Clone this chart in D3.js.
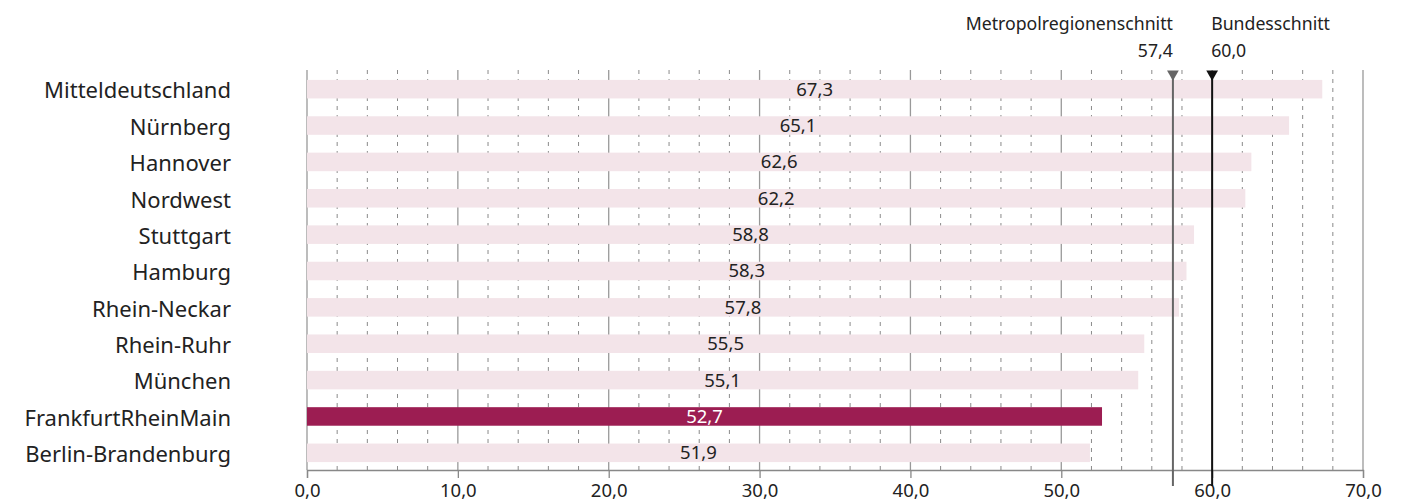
<!DOCTYPE html>
<html>
<head>
<meta charset="utf-8">
<script src="https://cdn.jsdelivr.net/npm/d3@7"></script>
<style>
  body { margin: 0; background: #fff; }
  svg { font-family: "Noto Sans", sans-serif; }
</style>
</head>
<body>
<svg id="chart" width="1417" height="501"></svg>
<script>
const regions = ["Mitteldeutschland", "Nürnberg", "Hannover", "Nordwest", "Stuttgart", "Hamburg",
  "Rhein-Neckar", "Rhein-Ruhr", "München", "FrankfurtRheinMain", "Berlin-Brandenburg"];
const values = [67.3, 65.1, 62.6, 62.2, 58.8, 58.3, 57.8, 55.5, 55.1, 52.7, 51.9];
const highlight = "FrankfurtRheinMain";
const refNames = ["Metropolregionenschnitt", "Bundesschnitt"];
const refValues = [57.4, 60.0];
const xTicks = [0, 10, 20, 30, 40, 50, 60, 70];

const fmt = v => d3.format(".1f")(v).replace(".", ",");

const svg = d3.select("#chart");
const x = d3.scaleLinear().domain([0, 70]).range([307, 1363]);
const y = d3.scaleBand().domain(regions).range([71, 471]).paddingInner(0.49).paddingOuter(0.245);
const axisY = 470;

// grid: dashed every 2, solid every 10
const grid = svg.append("g");
grid.selectAll("line.minor")
  .data(d3.range(2, 70, 2).filter(d => d % 10 !== 0))
  .join("line")
  .attr("x1", d => x(d)).attr("x2", d => x(d))
  .attr("y1", 70).attr("y2", axisY)
  .attr("stroke", "#8a8a8a").attr("stroke-width", 1)
  .attr("stroke-dasharray", "4,5");
grid.selectAll("line.major")
  .data(xTicks)
  .join("line")
  .attr("x1", d => x(d)).attr("x2", d => x(d))
  .attr("y1", 70).attr("y2", axisY)
  .attr("stroke", "#999").attr("stroke-width", 1.3);

// bars
svg.append("g").selectAll("rect")
  .data(regions)
  .join("rect")
  .attr("x", x(0))
  .attr("y", d => y(d))
  .attr("width", (d, i) => x(values[i]) - x(0))
  .attr("height", y.bandwidth())
  .attr("fill", d => d === highlight ? "#9c1d52" : "#f3e4e9");

// value labels
svg.append("g").selectAll("text")
  .data(regions)
  .join("text")
  .attr("x", (d, i) => (x(0) + x(values[i])) / 2)
  .attr("y", d => y(d) + y.bandwidth() / 2)
  .attr("dy", "0.35em")
  .attr("text-anchor", "middle")
  .attr("font-size", 18.5)
  .attr("fill", d => d === highlight ? "#fff" : "#222")
  .text((d, i) => fmt(values[i]));

// category labels
svg.append("g").selectAll("text")
  .data(regions)
  .join("text")
  .attr("x", 231)
  .attr("y", d => y(d) + y.bandwidth() / 2)
  .attr("dy", "0.42em")
  .attr("text-anchor", "end")
  .attr("font-size", 22)
  .attr("fill", "#222")
  .text(d => d);

// x axis
const xAxis = d3.axisBottom(x).tickValues(xTicks).tickSize(8).tickPadding(0).tickFormat(fmt);
const ax = svg.append("g").attr("transform", `translate(0,${axisY})`).call(xAxis);
ax.select(".domain").attr("stroke", "#888").attr("stroke-width", 1.3);
ax.selectAll(".tick line").attr("stroke", "#888").attr("stroke-width", 1.3);
ax.selectAll(".tick text").attr("font-size", 18.5).attr("fill", "#222")
  .attr("y", 27).attr("dy", null)
  .attr("font-family", "\"Noto Sans\", sans-serif");

// reference lines
const refColors = ["#666", "#111"];
refValues.forEach((v, i) => {
  const g = svg.append("g");
  g.append("line")
    .attr("x1", x(v)).attr("x2", x(v))
    .attr("y1", 72).attr("y2", 486)
    .attr("stroke", refColors[i]).attr("stroke-width", 2);
  g.append("path")
    .attr("d", d3.symbol(d3.symbolTriangle, 60)())
    .attr("transform", `translate(${x(v)},74) rotate(180)`)
    .attr("fill", refColors[i]);
  const anchor = i === 0 ? "end" : "start";
  const tx = i === 0 ? x(v) : x(v) - 1;
  g.append("text")
    .attr("x", tx).attr("y", 30)
    .attr("text-anchor", anchor)
    .attr("font-size", 17.7).attr("fill", "#222")
    .text(refNames[i]);
  g.append("text")
    .attr("x", tx).attr("y", 57)
    .attr("text-anchor", anchor)
    .attr("font-size", 17.7).attr("fill", "#222")
    .text(fmt(v));
});
</script>
</body>
</html>
